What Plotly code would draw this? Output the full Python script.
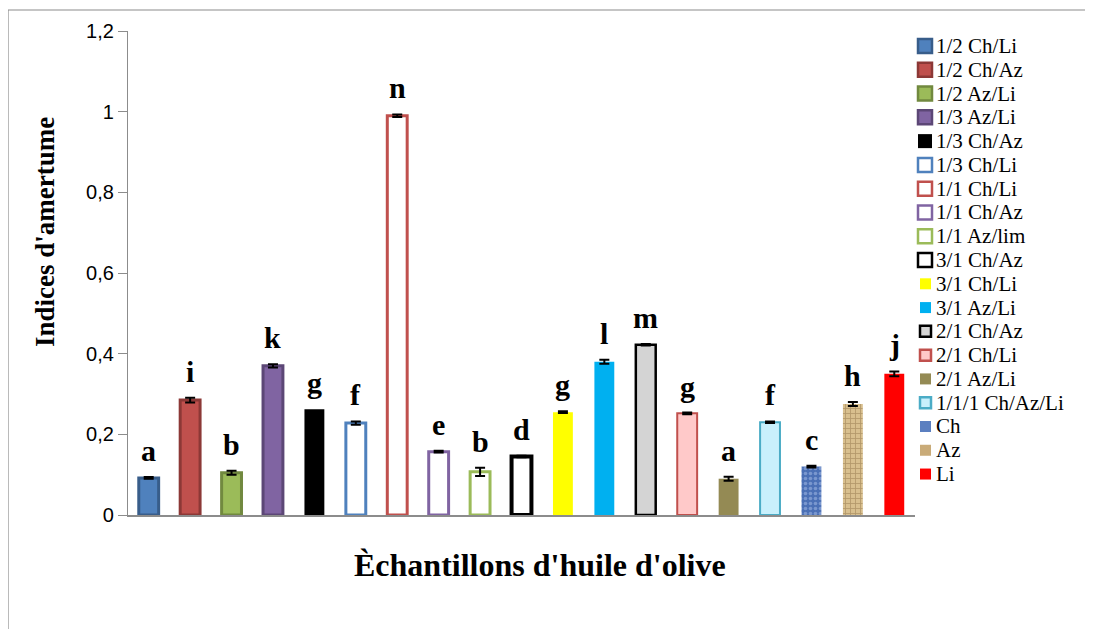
import plotly.graph_objects as go

categories = ["1/2 Ch/Li", "1/2 Ch/Az", "1/2 Az/Li", "1/3 Az/Li", "1/3 Ch/Az", "1/3 Ch/Li",
              "1/1 Ch/Li", "1/1 Ch/Az", "1/1 Az/lim", "3/1 Ch/Az", "3/1 Ch/Li", "3/1 Az/Li",
              "2/1 Ch/Az", "2/1 Ch/Li", "2/1 Az/Li", "1/1/1 Ch/Az/Li", "Ch", "Az", "Li"]
values = [0.092, 0.285, 0.105, 0.370, 0.262, 0.228, 0.990, 0.157, 0.107, 0.145,
          0.255, 0.380, 0.422, 0.252, 0.090, 0.230, 0.120, 0.275, 0.350]
errors = [0.002, 0.006, 0.005, 0.004, 0.0, 0.004, 0.003, 0.002, 0.010, 0.002,
          0.002, 0.005, 0.002, 0.002, 0.005, 0.002, 0.002, 0.005, 0.006]
letters = ["a", "i", "b", "k", "g", "f", "n", "e", "b", "d",
           "g", "l", "m", "g", "a", "f", "c", "h", "j"]

fills = ["#4f81bd", "#c0504d", "#9bbb59", "#8064a2", "#000000", "#ffffff",
         "#ffffff", "#ffffff", "#ffffff", "#ffffff", "#ffff00", "#00b0f0",
         "#d4d4d4", "#ffc9c9", "#948a54", "#c9f0fc", "#5b7fc0", "#c9ab78", "#ff0000"]
borders = ["#385d8a", "#8c3836", "#71893f", "#5c4776", "#000000", "#4f81bd",
           "#c0504d", "#8064a2", "#9bbb59", "#000000", "#ffff00", "#00b0f0",
           "#000000", "#c0504d", "#948a54", "#4bacc6", "#5b7fc0", "#c9ab78", "#ff0000"]
bwidth = [3, 3, 3, 3, 0, 3, 3, 3, 3, 4, 0, 0, 2.5, 2, 0, 2, 0, 0, 0]

# page-pixel geometry of the plot area (used to place the legend / frame)
PL, PW, PT, PH = 128, 787, 31, 484


def px(x):
    return (x - PL) / PW


def py(y):
    return (PT + PH - y) / PH


fig = go.Figure()
for i, c in enumerate(categories):
    marker = dict(color=fills[i], line=dict(color=borders[i], width=bwidth[i]))
    if c == "Ch":
        marker["pattern"] = dict(shape=".", fgcolor="#a9c0e8", bgcolor="#4a6fb5", size=5, solidity=0.4)
    if c == "Az":
        marker["pattern"] = dict(shape="+", fgcolor="#8a6e45", bgcolor="#d8bf8e", size=5, solidity=0.3)
    err = dict(type="data", array=[errors[i]], visible=errors[i] > 0,
               color="black", thickness=2, width=5)
    fig.add_trace(go.Bar(x=[c], y=[values[i]], name=c, marker=marker,
                         error_y=err, width=0.48, showlegend=False))

for i, c in enumerate(categories):
    fig.add_annotation(x=c, y=values[i] + errors[i], text="<b>%s</b>" % letters[i],
                       showarrow=False, yanchor="bottom", yshift=8,
                       font=dict(family="Liberation Serif", size=30, color="black"))

# legend drawn manually to match the compact layout
for i, c in enumerate(categories):
    cy = 46 + i * 23.78
    big = i < 10
    half = 7 if big else 5.5
    x0, x1 = (918, 932) if big else (920, 931)
    lw = 2.5 if bwidth[i] > 0 else 0
    if i < 4:
        lw = 2.5
    fig.add_shape(type="rect", xref="paper", yref="paper",
                  x0=px(x0), x1=px(x1), y0=py(cy + half), y1=py(cy - half),
                  fillcolor=fills[i], line=dict(color=borders[i], width=min(lw, 2.5)))
    fig.add_annotation(text=c, xref="paper", yref="paper", x=px(934), y=py(cy),
                       xanchor="left", yanchor="middle", showarrow=False,
                       font=dict(family="Liberation Serif", size=21, color="black"))

fig.add_annotation(text="<b>Indices d'amertume</b>", xref="paper", yref="paper",
                   x=px(45), y=py(232), textangle=-90, showarrow=False,
                   xanchor="center", yanchor="middle",
                   font=dict(family="Liberation Serif", size=27, color="black"))
fig.add_annotation(text="<b>Èchantillons d'huile d'olive</b>", xref="paper", yref="paper",
                   x=px(540), y=py(565), showarrow=False, xanchor="center", yanchor="middle",
                   font=dict(family="Liberation Serif", size=32, color="black"))

fig.add_shape(type="rect", xref="paper", yref="paper", x0=px(8), x1=px(1092),
              y0=py(640), y1=py(10), line=dict(color="#8c8c8c", width=1.2))

fig.update_layout(
    width=1085, height=621,
    margin=dict(l=PL - 8, r=1085 - (PL - 8) - PW, t=PT - 8, b=621 - (PT - 8) - PH, autoexpand=False),
    paper_bgcolor="white", plot_bgcolor="white",
    barmode="overlay", separators=", ",
    showlegend=False,
    xaxis=dict(type="category", categoryorder="array", categoryarray=categories,
               range=[-0.5, 18.5], showticklabels=False, ticks="",
               showline=True, linecolor="#8c8c8c", linewidth=2, showgrid=False, zeroline=False),
    yaxis=dict(range=[0, 1.2], tickvals=[0, 0.2, 0.4, 0.6, 0.8, 1.0, 1.2],
               ticktext=["0", "0,2", "0,4", "0,6", "0,8", "1", "1,2"],
               ticks="outside", ticklen=9, tickcolor="#8c8c8c", tickwidth=1,
               showline=True, linecolor="#8c8c8c", linewidth=1.2, showgrid=False,
               zeroline=False,
               tickfont=dict(family="Liberation Sans", size=20, color="black")),
)

fig.write_html("out.html")
